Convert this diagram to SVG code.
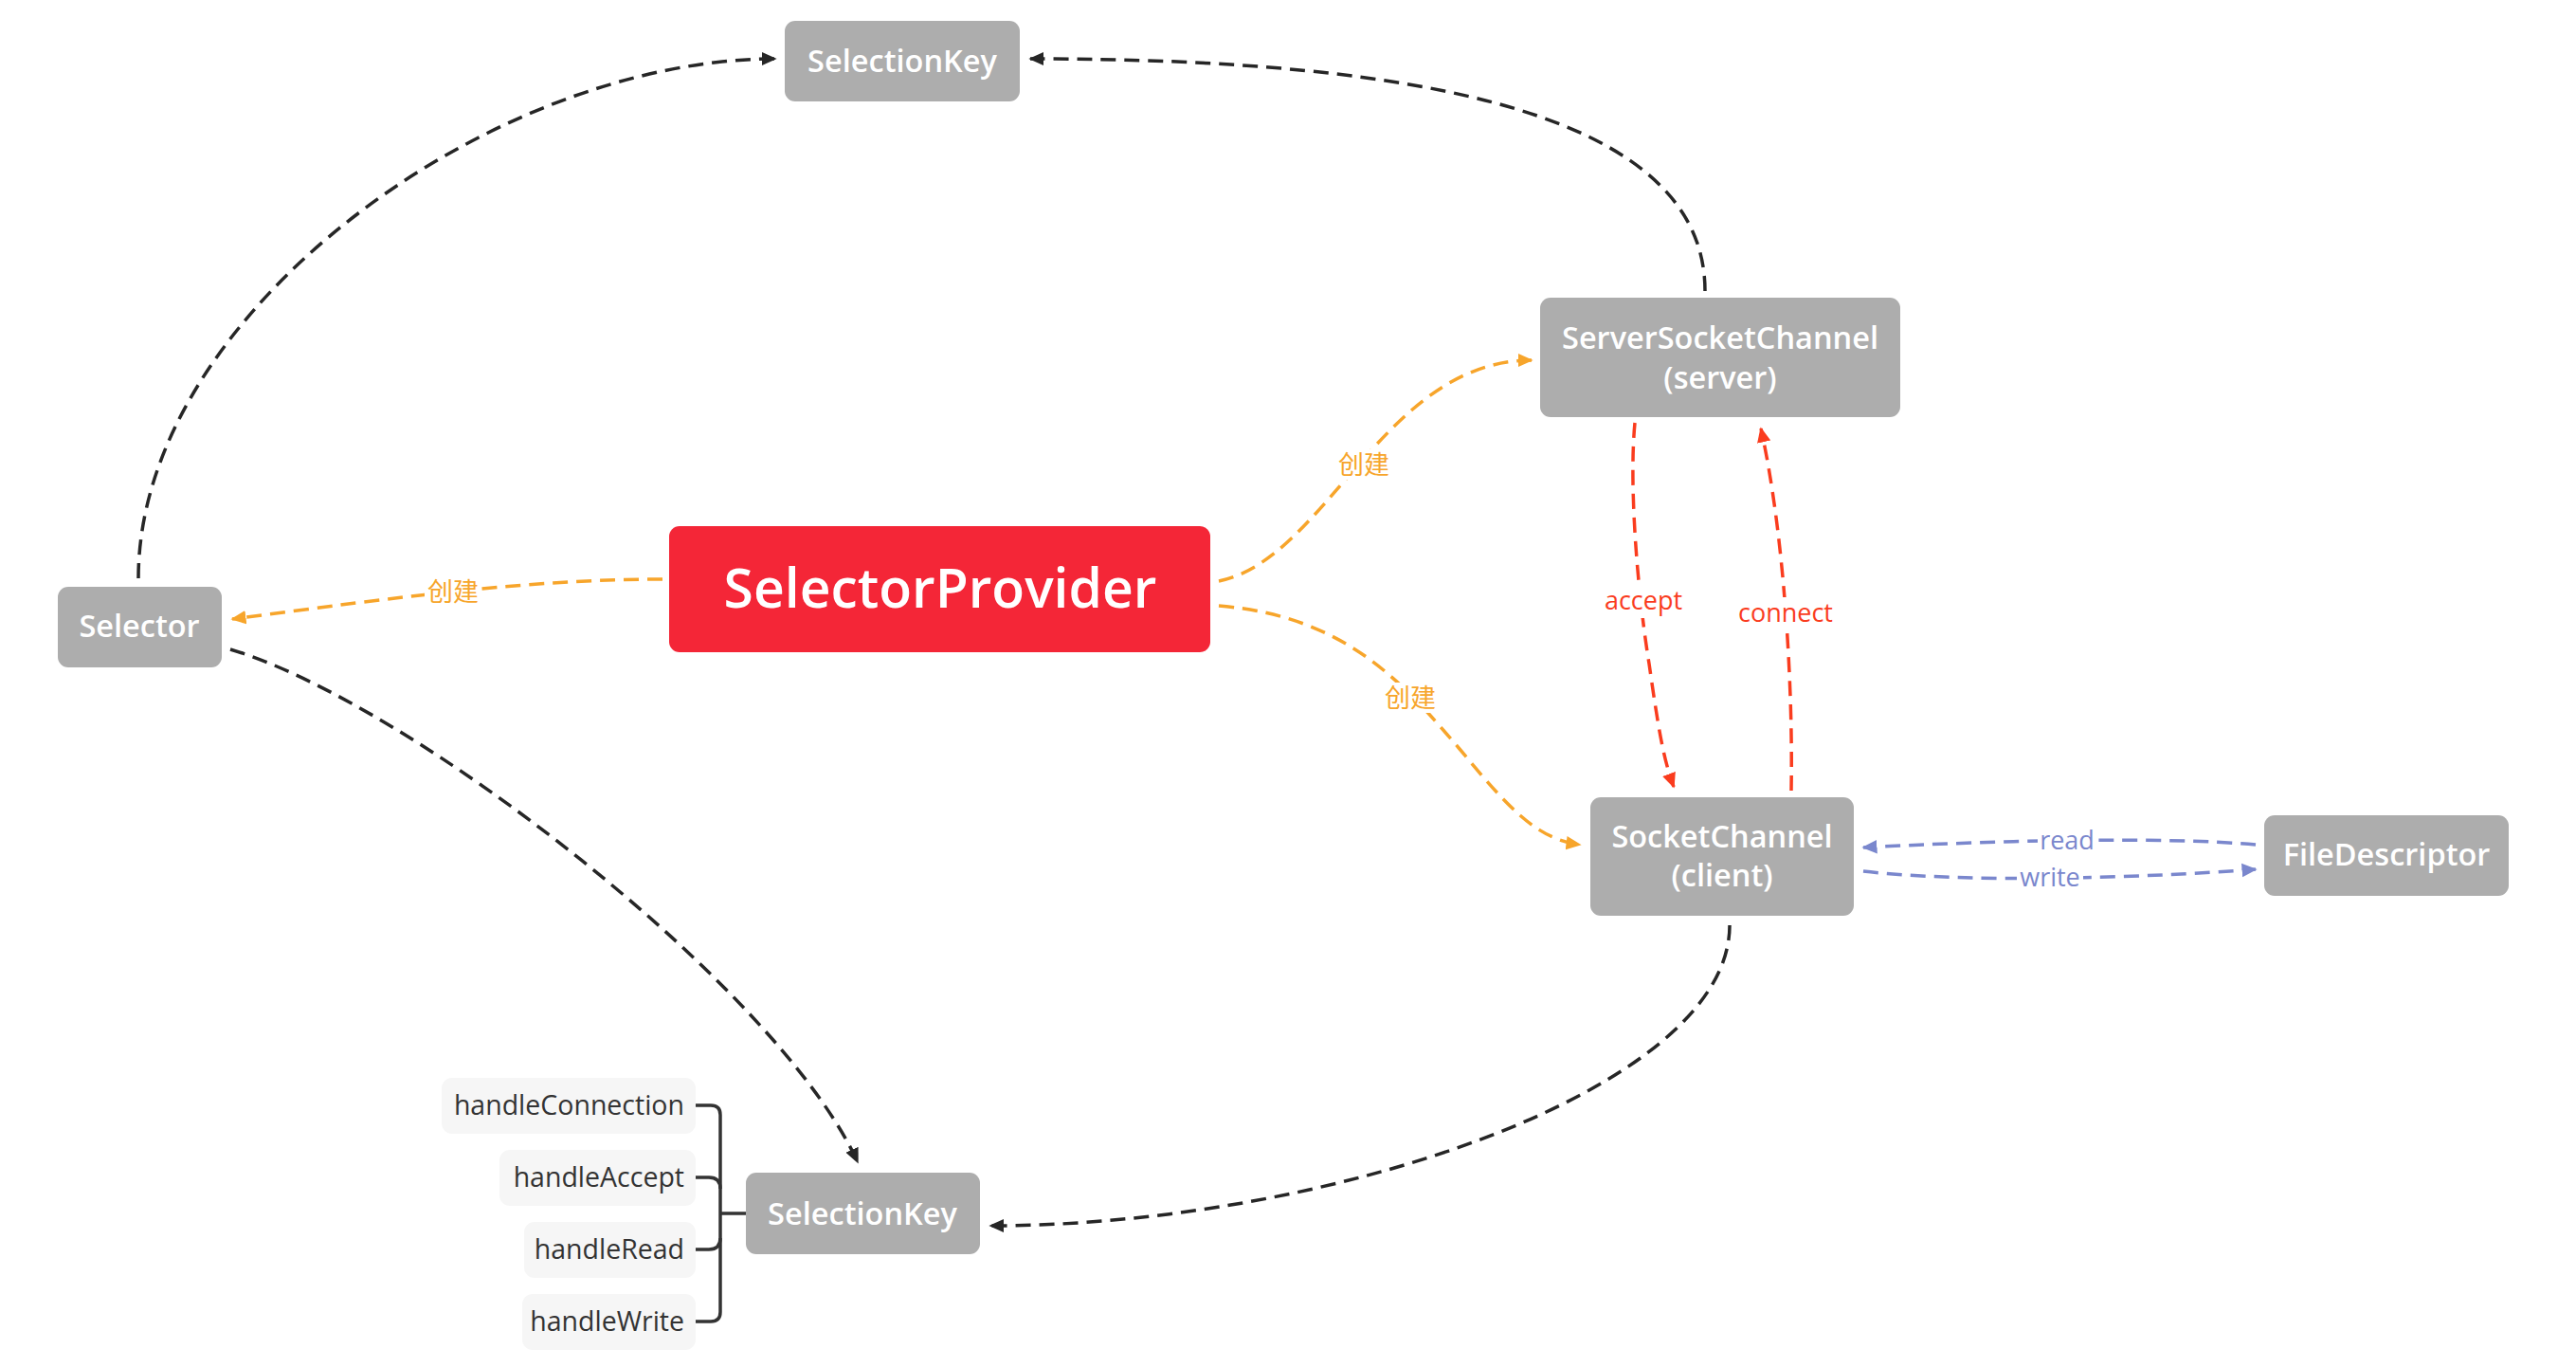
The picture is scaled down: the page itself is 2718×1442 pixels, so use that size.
<svg xmlns="http://www.w3.org/2000/svg" width="2718" height="1442" viewBox="0 0 2718 1442">
<defs>
<style>
.node rect{fill:#adadad}
.node text{fill:#ffffff;font-family:"Open Sans","Noto Sans",sans-serif;font-weight:600;font-size:32.5px;text-anchor:middle}
.leaf rect{fill:#f6f6f6}
.leaf text{fill:#333333;font-family:"Open Sans","Noto Sans",sans-serif;font-size:28.5px;text-anchor:end}
.c{fill:none;stroke-width:3.5;stroke-dasharray:16 9}
.blk{stroke:#262626}
.org{stroke:#f7a52b}
.red{stroke:#fa3c1e}
.blu{stroke:#7a87cd}
.lbl{font-family:"Open Sans","Noto Sans","Noto Sans CJK SC",sans-serif;font-size:27px;text-anchor:middle}
.bg{fill:#ffffff}
</style>
<marker id="aB" viewBox="0 0 10 10" refX="9" refY="5" markerWidth="4.6" markerHeight="4.6" orient="auto" markerUnits="strokeWidth"><path d="M0,0.5 L10,5 L0,9.5 z" fill="#262626"/></marker>
<marker id="aO" viewBox="0 0 10 10" refX="9" refY="5" markerWidth="4.6" markerHeight="4.6" orient="auto" markerUnits="strokeWidth"><path d="M0,0.5 L10,5 L0,9.5 z" fill="#f7a52b"/></marker>
<marker id="aR" viewBox="0 0 10 10" refX="9" refY="5" markerWidth="4.6" markerHeight="4.6" orient="auto" markerUnits="strokeWidth"><path d="M0,0.5 L10,5 L0,9.5 z" fill="#fa3c1e"/></marker>
<marker id="aU" viewBox="0 0 10 10" refX="9" refY="5" markerWidth="4.6" markerHeight="4.6" orient="auto" markerUnits="strokeWidth"><path d="M0,0.5 L10,5 L0,9.5 z" fill="#7a87cd"/></marker>
</defs>
<rect width="2718" height="1442" fill="#ffffff"/>
<g id="connectors">
<path class="c blk" d="M146,610 C146,330 520,62 818,62" marker-end="url(#aB)"/>
<path class="c blk" d="M1799,307 C1799,120 1500,62 1087,62" marker-end="url(#aB)"/>
<path class="c blk" d="M243,685 C430,740 820,1040 905,1226" marker-end="url(#aB)"/>
<path class="c blk" d="M1825,976 C1825,1150 1400,1293 1045,1293" marker-end="url(#aB)"/>
<path class="c org" d="M699,611 C560,611 420,630 245,653" marker-end="url(#aO)"/>
<path class="c org" d="M1286,613 C1400,590 1460,380 1616,380" marker-end="url(#aO)"/>
<path class="c org" d="M1286,639 C1420,650 1480,720 1540,790 C1590,850 1620,885 1667,891" marker-end="url(#aO)"/>
<path class="c red" d="M1725,446 C1718,520 1730,640 1740,700 C1750,770 1755,800 1766,830" marker-end="url(#aR)"/>
<path class="c red" d="M1890,834 C1892,720 1882,560 1858,452" marker-end="url(#aR)"/>
<path class="c blu" d="M2380,891 C2280,882 2100,887 1966,894" marker-end="url(#aU)"/>
<path class="c blu" d="M1966,919 C2080,932 2260,926 2380,917" marker-end="url(#aU)"/>
<g fill="none" stroke="#333333" stroke-width="3.5">
<path d="M734,1166 H750 Q760,1166 760,1176 V1384 Q760,1394 750,1394 H734"/>
<path d="M734,1242 H748 Q760,1242 760,1254"/>
<path d="M734,1318 H748 Q760,1318 760,1306"/>
<path d="M760,1280 H787"/>
</g>
<rect class="bg" x="448" y="608" width="60" height="32"/>
<text class="lbl" x="478" y="634" fill="#f7a52b">创建</text>
<rect class="bg" x="1409" y="474" width="60" height="32"/>
<text class="lbl" x="1439" y="500" fill="#f7a52b">创建</text>
<rect class="bg" x="1458" y="720" width="60" height="32"/>
<text class="lbl" x="1488" y="746" fill="#f7a52b">创建</text>
<rect class="bg" x="1688" y="616" width="92" height="36"/>
<text class="lbl" x="1734" y="643" fill="#fa3c1e">accept</text>
<rect class="bg" x="1832" y="630" width="104" height="36"/>
<text class="lbl" x="1884" y="656" fill="#fa3c1e">connect</text>
<rect class="bg" x="2150" y="873" width="62" height="28"/>
<text class="lbl" x="2181" y="896" fill="#7a87cd">read</text>
<rect class="bg" x="2128" y="912" width="70" height="28"/>
<text class="lbl" x="2163" y="935" fill="#7a87cd">write</text>
</g>
<g id="selectionkey-top" class="node"><rect x="828" y="22" width="248" height="85" rx="11"/><text x="952" y="76">SelectionKey</text></g>
<g id="serversocketchannel" class="node"><rect x="1625" y="314" width="380" height="126" rx="11"/><text x="1815" y="368">ServerSocketChannel</text><text x="1815" y="410">(server)</text></g>
<g id="selectorprovider"><rect x="706" y="555" width="571" height="133" rx="11" fill="#f42637"/><text x="992" y="641" fill="#ffffff" font-family="Open Sans, Noto Sans, sans-serif" font-weight="600" font-size="57" text-anchor="middle">SelectorProvider</text></g>
<g id="selector" class="node"><rect x="61" y="619" width="173" height="85" rx="11"/><text x="147" y="672">Selector</text></g>
<g id="socketchannel" class="node"><rect x="1678" y="841" width="278" height="125" rx="11"/><text x="1817" y="894">SocketChannel</text><text x="1817" y="935">(client)</text></g>
<g id="filedescriptor" class="node"><rect x="2389" y="860" width="258" height="85" rx="11"/><text x="2518" y="913">FileDescriptor</text></g>
<g id="selectionkey-bottom" class="node"><rect x="787" y="1237" width="247" height="86" rx="11"/><text x="910" y="1292">SelectionKey</text></g>
<g id="handleconnection" class="leaf"><rect x="466" y="1137" width="268" height="59" rx="11"/><text x="722" y="1176">handleConnection</text></g>
<g id="handleaccept" class="leaf"><rect x="527" y="1213" width="207" height="59" rx="11"/><text x="722" y="1252">handleAccept</text></g>
<g id="handleread" class="leaf"><rect x="553" y="1289" width="181" height="59" rx="11"/><text x="722" y="1328">handleRead</text></g>
<g id="handlewrite" class="leaf"><rect x="551" y="1365" width="183" height="59" rx="11"/><text x="722" y="1404">handleWrite</text></g>
</svg>
